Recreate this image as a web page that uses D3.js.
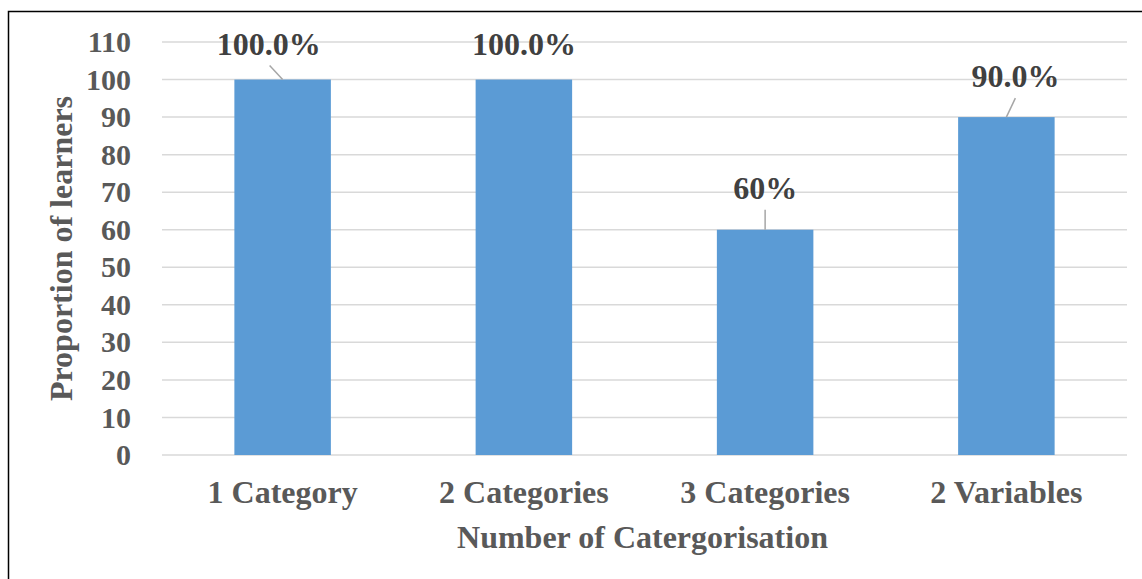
<!DOCTYPE html>
<html>
<head>
<meta charset="utf-8">
<title>Number of Catergorisation</title>
<style>
  body { margin: 0; background: #fff; }
  text { font-family: "Liberation Serif", "Times New Roman", serif; font-weight: bold; }
</style>
</head>
<body>
<script src="https://cdn.jsdelivr.net/npm/d3@7"></script>
<script>
var categories = ['1 Category', '2 Categories', '3 Categories', '2 Variables'];
var values = [100, 100, 60, 90];
var labels = ['100.0%', '100.0%', '60%', '90.0%'];
var yTicks = [0, 10, 20, 30, 40, 50, 60, 70, 80, 90, 100, 110];

var width = 1142, height = 579;
var margin = {left: 162, right: 15, top: 42, bottom: 124};

var svg = d3.select('body').append('svg')
  .attr('width', width).attr('height', height);

// outer frame (runs off the right and bottom edge)
svg.append('rect')
  .attr('x', 8.5).attr('y', 11.5)
  .attr('width', 1150).attr('height', 600)
  .attr('fill', 'none').attr('stroke', '#000').attr('stroke-width', 1.5);

var x = d3.scaleBand().domain(categories)
  .range([margin.left, width - margin.right])
  .paddingInner(0.6).paddingOuter(0.3);
var y = d3.scaleLinear().domain([0, 110])
  .range([height - margin.bottom, margin.top]);

// gridlines
svg.append('g').selectAll('line').data(yTicks).enter().append('line')
  .attr('x1', margin.left).attr('x2', width - margin.right)
  .attr('y1', function(d){ return y(d); }).attr('y2', function(d){ return y(d); })
  .attr('stroke', '#d9d9d9').attr('stroke-width', 1.5);

// y axis labels
var yAxis = d3.axisLeft(y).tickValues(yTicks).tickSize(0).tickPadding(0);
var gy = svg.append('g').attr('transform', 'translate(131,0)').call(yAxis);
gy.select('.domain').remove();
gy.selectAll('text')
  .attr('fill', '#595959').style('font-size', '30px')
  .style('font-family', '"Liberation Serif", serif').style('font-weight', 'bold');

// bars
svg.append('g').selectAll('rect').data(values).enter().append('rect')
  .attr('x', function(d, i){ return x(categories[i]); })
  .attr('y', function(d){ return y(d); })
  .attr('width', x.bandwidth())
  .attr('height', function(d){ return y(0) - y(d); })
  .attr('fill', '#5b9bd5');

// x axis labels
var xAxis = d3.axisBottom(x).tickSize(0).tickPadding(0);
var gx = svg.append('g').attr('transform', 'translate(0,' + (y(0) + 25) + ')').call(xAxis);
gx.select('.domain').remove();
gx.selectAll('text')
  .attr('fill', '#595959').style('font-size', '32px')
  .style('font-family', '"Liberation Serif", serif').style('font-weight', 'bold');

// data labels with leader lines (offsets from bar top)
var labelDx = [-14, 0, 0, 9];
var labelDy = [-25, -25, -31, -30];
var leadEnd = [[-13, -14], null, [0, -20], [9, -19]];
var g = svg.append('g');
values.forEach(function(v, i){
  var cx = x(categories[i]) + x.bandwidth() / 2;
  var top = y(v);
  if (leadEnd[i]) {
    g.append('line')
      .attr('x1', cx).attr('y1', top)
      .attr('x2', cx + leadEnd[i][0]).attr('y2', top + leadEnd[i][1])
      .attr('stroke', '#a6a6a6').attr('stroke-width', 1.5);
  }
  g.append('text')
    .attr('x', cx + labelDx[i]).attr('y', top + labelDy[i])
    .attr('text-anchor', 'middle')
    .attr('fill', '#404040').style('font-size', '32px')
    .text(labels[i]);
});

// axis titles
svg.append('text')
  .attr('transform', 'translate(72,' + y(55) + ') rotate(-90)')
  .attr('text-anchor', 'middle')
  .attr('fill', '#595959').style('font-size', '32px')
  .text('Proportion of learners');

svg.append('text')
  .attr('x', (margin.left + width - margin.right) / 2 - 2).attr('y', 548)
  .attr('text-anchor', 'middle')
  .attr('fill', '#595959').style('font-size', '32px')
  .text('Number of Catergorisation');
</script>
</body>
</html>
